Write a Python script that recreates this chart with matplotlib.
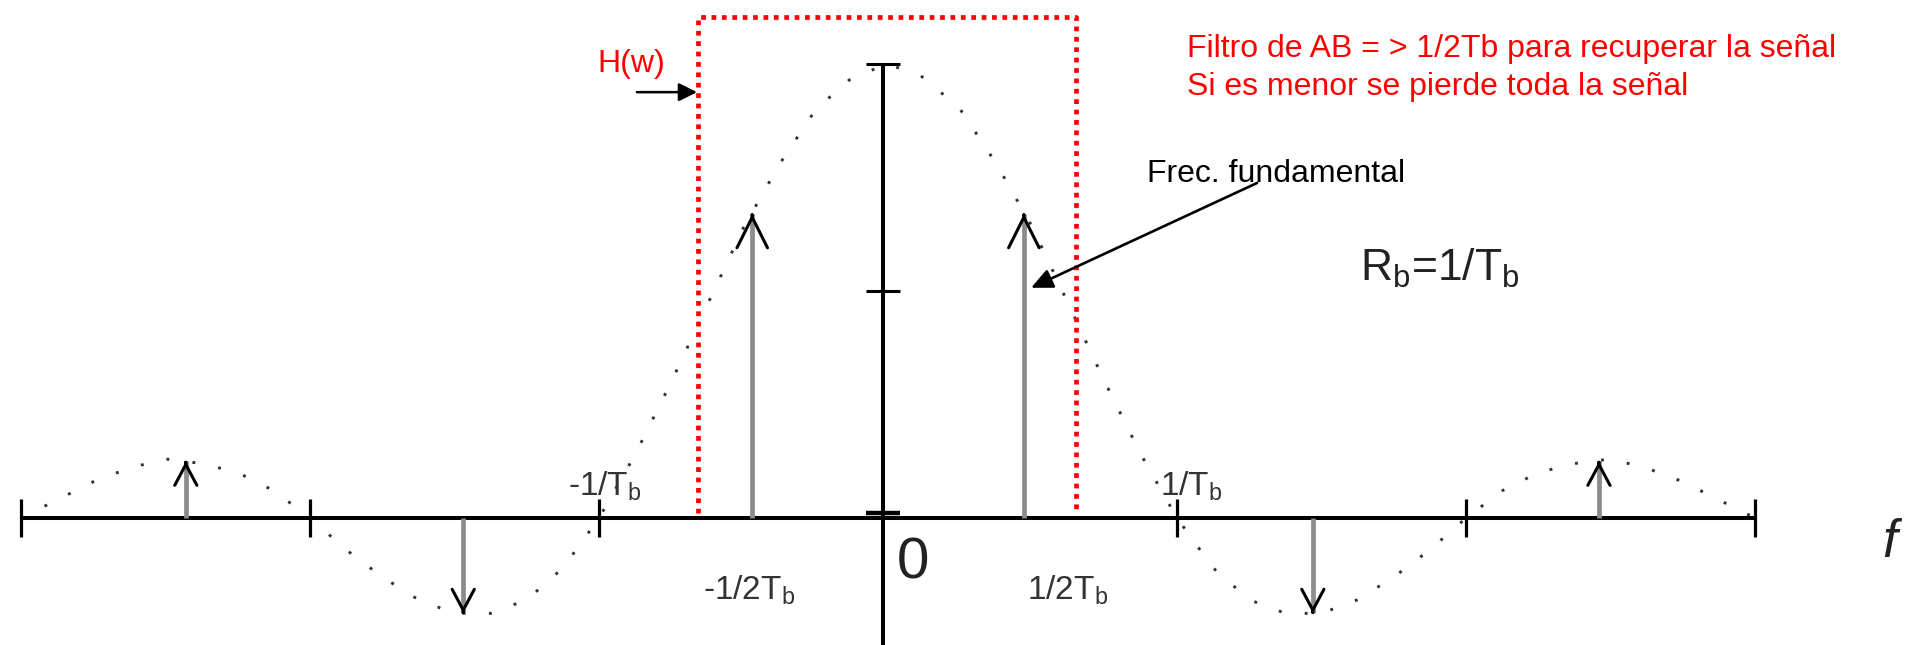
import numpy as np
import matplotlib.pyplot as plt

plt.rcParams["font.family"] = ["Liberation Sans", "DejaVu Sans"]
plt.rcParams["mathtext.fontset"] = "custom"
plt.rcParams["mathtext.rm"] = "Liberation Sans"
plt.rcParams["mathtext.it"] = "Liberation Sans:italic"

# sinc-shaped envelope, f in units of 1/Tb
envelope_f = np.linspace(-3, 3, 49)
envelope_v = [0.00, 0.04, 0.08, 0.11, 0.13, 0.12, 0.10, 0.06,
              0.00, -0.07, -0.13, -0.18, -0.21, -0.21, -0.18, -0.11,
              0.00, 0.14, 0.30, 0.47, 0.64, 0.78, 0.90, 0.97,
              1.00,
              0.97, 0.90, 0.78, 0.64, 0.47, 0.30, 0.14, 0.00,
              -0.11, -0.18, -0.21, -0.21, -0.18, -0.13, -0.07, 0.00,
              0.06, 0.10, 0.12, 0.13, 0.11, 0.08, 0.04, 0.00]

# spectral lines (arrows)
line_f = [-2.43, -1.47, -0.47, 0.47, 1.47, 2.46]
line_v = [0.125, -0.21, 0.67, 0.67, -0.21, 0.125]

# ticks on the frequency axis and on the vertical axis
tick_f = [-3, -2, -1, 1, 2, 3]
vtick_v = [0.5, 1.0]
axis_x = -0.017

# ideal filter H(w)
filter_f = [-0.657, 0.65]
filter_top = 1.103

note_lines = ["Filtro de AB = > 1/2Tb para recuperar la señal",
              "Si es menor se pierde toda la señal"]

fig = plt.figure(figsize=(19.07, 6.45), dpi=100)
ax = fig.add_axes([0, 0, 1, 1])
ax.set_xlim(-3.073, 3.526)
ax.set_ylim(-0.2797, 1.141)
ax.axis("off")

# dotted envelope
ax.plot(envelope_f, envelope_v, color="#333333", lw=2.1,
        linestyle=(0, (1, 8)), dash_capstyle="butt")

# frequency axis
ax.plot([tick_f[0], tick_f[-1]], [0, 0], color="black", lw=2.9,
        solid_capstyle="butt")
ax.vlines(tick_f, -0.042, 0.042, color="black", lw=2.3)

# vertical axis
ax.plot([axis_x, axis_x], [-0.2797, 1.0], color="black", lw=2.9,
        solid_capstyle="butt")
ax.hlines(vtick_v, axis_x - 0.06, axis_x + 0.06, color="black", lw=2.2)
ax.hlines(0.01, axis_x - 0.06, axis_x + 0.06, color="black", lw=3.2)

# spectral lines
ax.vlines(line_f, 0, line_v, color="#8c8c8c", lw=3.4)
for f, v in zip(line_f, line_v):
    big = abs(v) > 0.5
    style = "->,head_length=2.2,head_width=1.1" if big else "->,head_length=1.5,head_width=0.8"
    ax.annotate("", xy=(f, v), xytext=(0, -np.sign(v) * 1.0),
                textcoords="offset points",
                arrowprops=dict(arrowstyle=style, color="black", lw=2.2,
                                shrinkA=0, shrinkB=0))

# filter box
ax.plot([filter_f[0], filter_f[0], filter_f[1], filter_f[1]],
        [0.01, filter_top, filter_top, 0.01], color="#ff0000", lw=3.4,
        linestyle=(0, (1, 1.2)), dash_capstyle="butt")

ax.text(-1.007, 0.982, "H(w)", color="#ff0000", fontsize=23,
        ha="left", va="baseline")
ax.annotate("", xy=(-0.661, 0.938), xytext=(-0.869, 0.938),
            arrowprops=dict(arrowstyle="-|>,head_length=1.1,head_width=0.55",
                            color="black", lw=1.8, shrinkA=0, shrinkB=0))

# notes
ax.text(1.035, 1.015, note_lines[0], color="#ff0000", fontsize=23,
        ha="left", va="baseline")
ax.text(1.035, 0.932, note_lines[1], color="#ff0000", fontsize=23,
        ha="left", va="baseline")

ax.text(0.896, 0.740, "Frec. fundamental", color="black", fontsize=23,
        ha="left", va="baseline")
ax.annotate("", xy=(0.495, 0.507), xytext=(1.277, 0.738),
            arrowprops=dict(arrowstyle="-|>,head_length=1.3,head_width=0.6",
                            color="black", lw=1.9, shrinkA=0, shrinkB=0))

ax.text(1.633, 0.522, r"R$_\mathrm{b}$=1/T$_\mathrm{b}$", color="#222222",
        fontsize=32, ha="left", va="baseline")

# axis labels
lab_color = "#333333"
ax.text(-0.98, 0.05, r"-1/T$_\mathrm{b}$", color=lab_color, fontsize=24,
        ha="center", va="baseline")
ax.text(1.05, 0.05, r"1/T$_\mathrm{b}$", color=lab_color, fontsize=24,
        ha="center", va="baseline")
ax.text(-0.48, -0.18, r"-1/2T$_\mathrm{b}$", color=lab_color, fontsize=24,
        ha="center", va="baseline")
ax.text(0.62, -0.18, r"1/2T$_\mathrm{b}$", color=lab_color, fontsize=24,
        ha="center", va="baseline")
ax.text(0.087, -0.10, "0", color="#222222", fontsize=42,
        ha="center", va="center")
ax.text(3.44, -0.086, "f", color="#222222", fontsize=38, style="italic",
        ha="left", va="baseline")

fig.savefig("out.png", dpi=100)
